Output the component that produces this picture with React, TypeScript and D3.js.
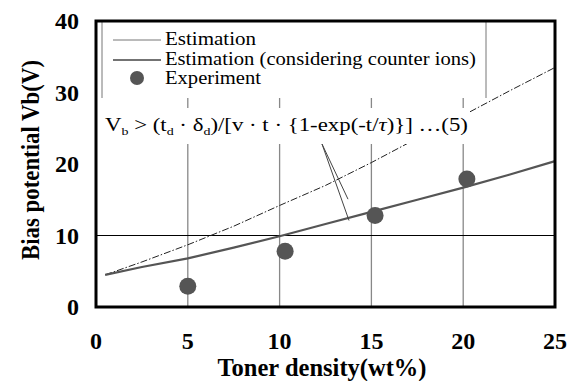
import React from 'react';
import * as d3 from 'd3';

// toner density (wt%) sample points for the two estimation curves
const curveX = [0.5, 2.5, 5, 7.5, 10, 12.5, 15, 17.5, 20, 22.5, 25];
const estimation = [4.5, 6.3, 8.7, 11.3, 14.2, 17.0, 20.2, 23.6, 26.8, 30.2, 33.5];
const estimationIons = [4.5, 5.6, 6.8, 8.3, 9.9, 11.6, 13.3, 15.0, 16.7, 18.5, 20.4];

const experimentX = [5, 10.3, 15.2, 20.2];
const experimentY = [2.9, 7.8, 12.8, 17.9];

const xTicks = [0, 5, 10, 15, 20, 25];
const yTicks = [0, 10, 20, 30, 40];

const FONT = "'Liberation Serif', 'Times New Roman', Times, serif";

export default function App() {
  const W = 576, H = 381;
  const left = 96, right = 555, top = 21, bottom = 307;

  const x = d3.scaleLinear().domain([0, 25]).range([left, right]);
  const y = d3.scaleLinear().domain([0, 40]).range([bottom, top]);

  const line = d3.line<number>().x((d, i) => x(curveX[i])).y(d => y(d));

  return (
    <svg width={W} height={H} style={{ position: 'absolute', left: 0, top: 0, background: '#fff', fontFamily: FONT }}>
      {/* grid */}
      {xTicks.slice(1, -1).map(t => (
        <line key={`gx-${t}`} x1={x(t)} x2={x(t)} y1={top} y2={bottom} stroke="#888" strokeWidth={1.3}/>
      ))}
      <line x1={left} x2={right} y1={y(10)} y2={y(10)} stroke="#000" strokeWidth={1}/>

      {/* curves */}
      <path d={line(estimation) ?? ''} fill="none" stroke="#222" strokeWidth={1} strokeDasharray="7,2,1.5,2"/>
      <path d={line(estimationIons) ?? ''} fill="none" stroke="#555" strokeWidth={2.2}/>

      {/* legend box */}
      <rect x={101} y={top} width={385} height={77} fill="#fff"/>
      <line x1={102} x2={102} y1={top} y2={98} stroke="#777" strokeWidth={1}/>
      <line x1={486} x2={486} y1={top} y2={98} stroke="#777" strokeWidth={1}/>
      <line x1={113} x2={161} y1={40} y2={40} stroke="#777" strokeWidth={1}/>
      <line x1={113} x2={161} y1={60} y2={60} stroke="#444" strokeWidth={1.5}/>
      <circle cx={137} cy={78} r={7} fill="#555"/>
      <g fontSize={19}>
        <text x={165} y={45} textLength={91} lengthAdjust="spacingAndGlyphs">Estimation</text>
        <text x={165} y={65} textLength={311} lengthAdjust="spacingAndGlyphs">Estimation (considering counter ions)</text>
        <text x={165} y={84} textLength={96} lengthAdjust="spacingAndGlyphs">Experiment</text>
      </g>

      {/* equation */}
      <rect x={103} y={108} width={367} height={36} fill="#fff"/>
      <text x={105} y={131} fontSize={18} textLength={363} lengthAdjust="spacingAndGlyphs">
        V<tspan fontSize={11} dy={4}>b</tspan>
        <tspan dy={-4}>{'  > (t'}</tspan><tspan fontSize={11} dy={4}>d</tspan>
        <tspan dy={-4}>{' · δ'}</tspan><tspan fontSize={11} dy={4}>d</tspan>
        <tspan dy={-4}>{')/[v · t · {1-exp(-t/'}</tspan><tspan fontStyle="italic">τ</tspan>
        <tspan>{')}] …(5)'}</tspan>
      </text>
      <line x1={322} y1={144} x2={348} y2={y(15.5) + 3} stroke="#444" strokeWidth={1}/>
      <line x1={322} y1={144} x2={349} y2={y(12.1)} stroke="#444" strokeWidth={1}/>

      {/* experiment points */}
      {experimentX.map((v, i) => (
        <circle key={`e-${i}`} cx={x(v)} cy={y(experimentY[i])} r={8.5} fill="#555"/>
      ))}

      {/* frame */}
      <rect x={left} y={top} width={right - left} height={bottom - top} fill="none" stroke="#000" strokeWidth={3}/>

      {/* ticks */}
      {yTicks.map(t => (
        <text key={`yt-${t}`} x={79} y={y(t)} dy="0.35em" textAnchor="end" fontSize={24} fontWeight="bold">{t}</text>
      ))}
      {xTicks.map(t => (
        <text key={`xt-${t}`} x={x(t)} y={341} dy="0.35em" textAnchor="middle" fontSize={24} fontWeight="bold">{t}</text>
      ))}

      {/* axis titles */}
      <text x={322} y={376} textAnchor="middle" fontSize={26} fontWeight="bold" textLength={209} lengthAdjust="spacingAndGlyphs">Toner density(wt%)</text>
      <text transform="translate(39,160) rotate(-90)" textAnchor="middle" fontSize={26} fontWeight="bold" textLength={200} lengthAdjust="spacingAndGlyphs">Bias potential Vb(V)</text>
    </svg>
  );
}
